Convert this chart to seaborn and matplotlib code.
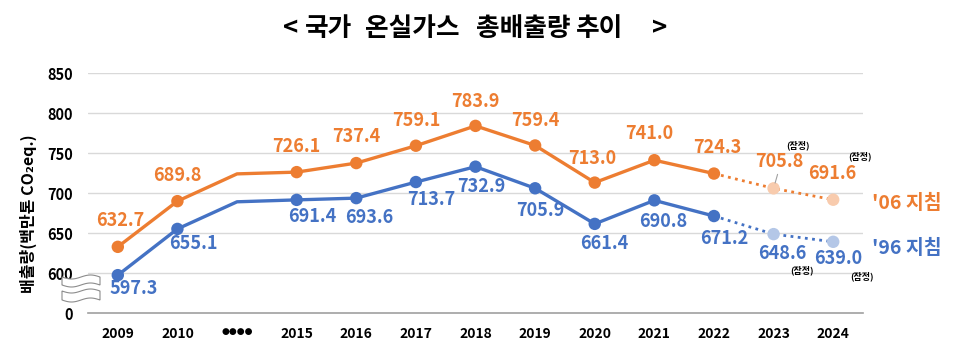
import matplotlib
matplotlib.use("Agg")
import matplotlib.pyplot as plt
import seaborn as sns
import pandas as pd
import numpy as np
from matplotlib.patches import Polygon
from matplotlib.transforms import ScaledTranslation

# ---------------- data ----------------
categories = ["2009", "2010", "●●●●", "2015", "2016", "2017", "2018",
              "2019", "2020", "2021", "2022", "2023", "2024"]
guide06 = [632.7, 689.8, 723.9, 726.1, 737.4, 759.1, 783.9, 759.4,
           713.0, 741.0, 724.3, 705.8, 691.6]
guide96 = [597.3, 655.1, 689.0, 691.4, 693.6, 713.7, 732.9, 705.9,
           661.4, 690.8, 671.2, 648.6, 639.0]
ytick_values = [550, 600, 650, 700, 750, 800, 850]
ytick_labels = ["0", "600", "650", "700", "750", "800", "850"]
title_parts = ["<", "국가", "온실가스", "총배출량", "추이", ">"]
ylabel = "배출량(백만톤 CO₂eq.)"
name06 = "'06 지침"
name96 = "'96 지침"
prelim = "(잠정)"

ORANGE = "#ED7D31"
BLUE = "#4472C4"
ORANGE_L = "#F8CBAD"
BLUE_L = "#B4C7E7"

sns.set_theme(style="white")
plt.rcParams['font.family'] = ['Noto Sans CJK KR', 'DejaVu Sans']

W, H = 977, 349
fig = plt.figure(figsize=(W / 100, H / 100), dpi=100)
ax = fig.add_axes([88 / W, 1 - 313 / H, (863 - 88) / W, (313 - 73) / H])

x = np.arange(len(categories))
df = pd.DataFrame({"x": x, "cat": categories, "g06": guide06, "g96": guide96})
solid = df.iloc[:11]
dotted = df.iloc[10:]
marked = df[df["cat"] != "●●●●"]
final = marked[marked["x"] <= 10]
prov = marked[marked["x"] >= 11]

# gridlines
for v in ytick_values[1:]:
    ax.axhline(v, color="#D9D9D9", lw=1.0, zorder=0)

sns.lineplot(data=solid, x="x", y="g06", color=ORANGE, lw=2.4, ax=ax, zorder=2)
sns.lineplot(data=solid, x="x", y="g96", color=BLUE, lw=2.4, ax=ax, zorder=2)
sns.lineplot(data=dotted, x="x", y="g06", color=ORANGE, lw=2.0, ax=ax,
             linestyle=(0, (1, 1.6)), zorder=2)
sns.lineplot(data=dotted, x="x", y="g96", color=BLUE, lw=2.0, ax=ax,
             linestyle=(0, (1, 1.6)), zorder=2)
sns.scatterplot(data=final, x="x", y="g06", color=ORANGE, s=80, ax=ax,
                edgecolor="none", zorder=3)
sns.scatterplot(data=final, x="x", y="g96", color=BLUE, s=80, ax=ax,
                edgecolor="none", zorder=3)
sns.scatterplot(data=prov, x="x", y="g06", color=ORANGE_L, s=80, ax=ax,
                edgecolor="none", zorder=3)
sns.scatterplot(data=prov, x="x", y="g96", color=BLUE_L, s=80, ax=ax,
                edgecolor="none", zorder=3)

ax.set_xlim(-0.5, 12.5)
ax.set_ylim(550, 850)
ax.set_xticks(x)
ax.set_xticklabels(categories, fontsize=10, fontweight="bold", color="black")
for lab in ax.get_xticklabels():
    if lab.get_text() == "●●●●":
        lab.set_family("DejaVu Sans")
        lab.set_fontsize(6.5)
        lab.set_transform(lab.get_transform() +
                          ScaledTranslation(0, -5 / 100, fig.dpi_scale_trans))
ax.set_yticks(ytick_values)
ax.set_yticklabels(ytick_labels, fontsize=10.5, fontweight="bold", color="black")
ax.tick_params(axis="x", length=0, pad=10)
ax.tick_params(axis="y", length=0, pad=11)
ax.set_xlabel("")
ax.set_ylabel("")
for s in ["top", "right", "left"]:
    ax.spines[s].set_visible(False)
ax.spines["bottom"].set_color("#A0A0A0")
ax.spines["bottom"].set_linewidth(1.2)

# data labels: offsets in pixels (dx, dy)
off06 = [(2, 26), (0, 26), None, (0, 26), (0, 27), (0, 25), (0, 24), (0, 25),
         (-3, 24), (-5, 27), (3, 26), (6, 27), (-1, 26)]
off96 = [(16, -13), (16, -15), None, (16, -17), (13, -19), (15, -17), (6, -20),
         (5, -22), (10, -20), (9, -21), (10, -22), (9, -19), (5, -17)]
for i in range(len(categories)):
    if off06[i] is not None:
        ax.annotate(f"{guide06[i]:.1f}", (x[i], guide06[i]), xytext=off06[i],
                    textcoords="offset pixels", ha="center", va="center",
                    fontsize=13, fontweight="bold", color=ORANGE, zorder=5,
                    annotation_clip=False)
    if off96[i] is not None:
        ax.annotate(f"{guide96[i]:.1f}", (x[i], guide96[i]), xytext=off96[i],
                    textcoords="offset pixels", ha="center", va="center",
                    fontsize=13, fontweight="bold", color=BLUE, zorder=5,
                    annotation_clip=False)

# leader line for 2023 orange label
ax.annotate("", (x[11], guide06[11]), xytext=(4, 14), textcoords="offset pixels",
            arrowprops=dict(arrowstyle="-", color="#A0A0A0", lw=0.8,
                            shrinkA=0, shrinkB=4))

def ft(px, py, s, **kw):
    fig.text(px / W, 1 - py / H, s, **kw)

for part, cx in zip(title_parts, [291, 329, 412, 523, 600, 660]):
    ft(cx, 29, part, fontsize=18.5, fontweight="bold", ha="center", va="center",
       color="black")
ft(28, 214, ylabel, fontsize=11.5, fontweight="bold", ha="center", va="center",
   rotation=90, color="black")
ft(907, 203, name06, fontsize=14, fontweight="bold", ha="center", va="center",
   color=ORANGE)
ft(907, 248, name96, fontsize=14, fontweight="bold", ha="center", va="center",
   color=BLUE)
for (px, py) in [(798, 145), (860, 156), (802, 270), (862, 276)]:
    ft(px, py, prelim, fontsize=6.5, ha="center", va="center", color="black",
       fontweight="bold")

# axis break mark
def wave(y0, x0=62, x1=100, amp=2.0, n=60):
    xs = np.linspace(x0, x1, n)
    ys = y0 + amp * np.sin((xs - x0) / (x1 - x0) * 2 * np.pi)
    return xs, ys

for (ya, yb) in [(277, 285), (291, 300)]:
    xs, ytop = wave(ya)
    _, ybot = wave(yb)
    pts = np.concatenate([np.column_stack([xs, ytop]),
                          np.column_stack([xs[::-1], ybot[::-1]])])
    pts_fig = np.column_stack([pts[:, 0] / W, 1 - pts[:, 1] / H])
    poly = Polygon(pts_fig, closed=True, facecolor="white", edgecolor="#8C8C8C",
                   lw=0.8, transform=fig.transFigure, zorder=10)
    fig.add_artist(poly)

fig.savefig("out.png", dpi=100)
